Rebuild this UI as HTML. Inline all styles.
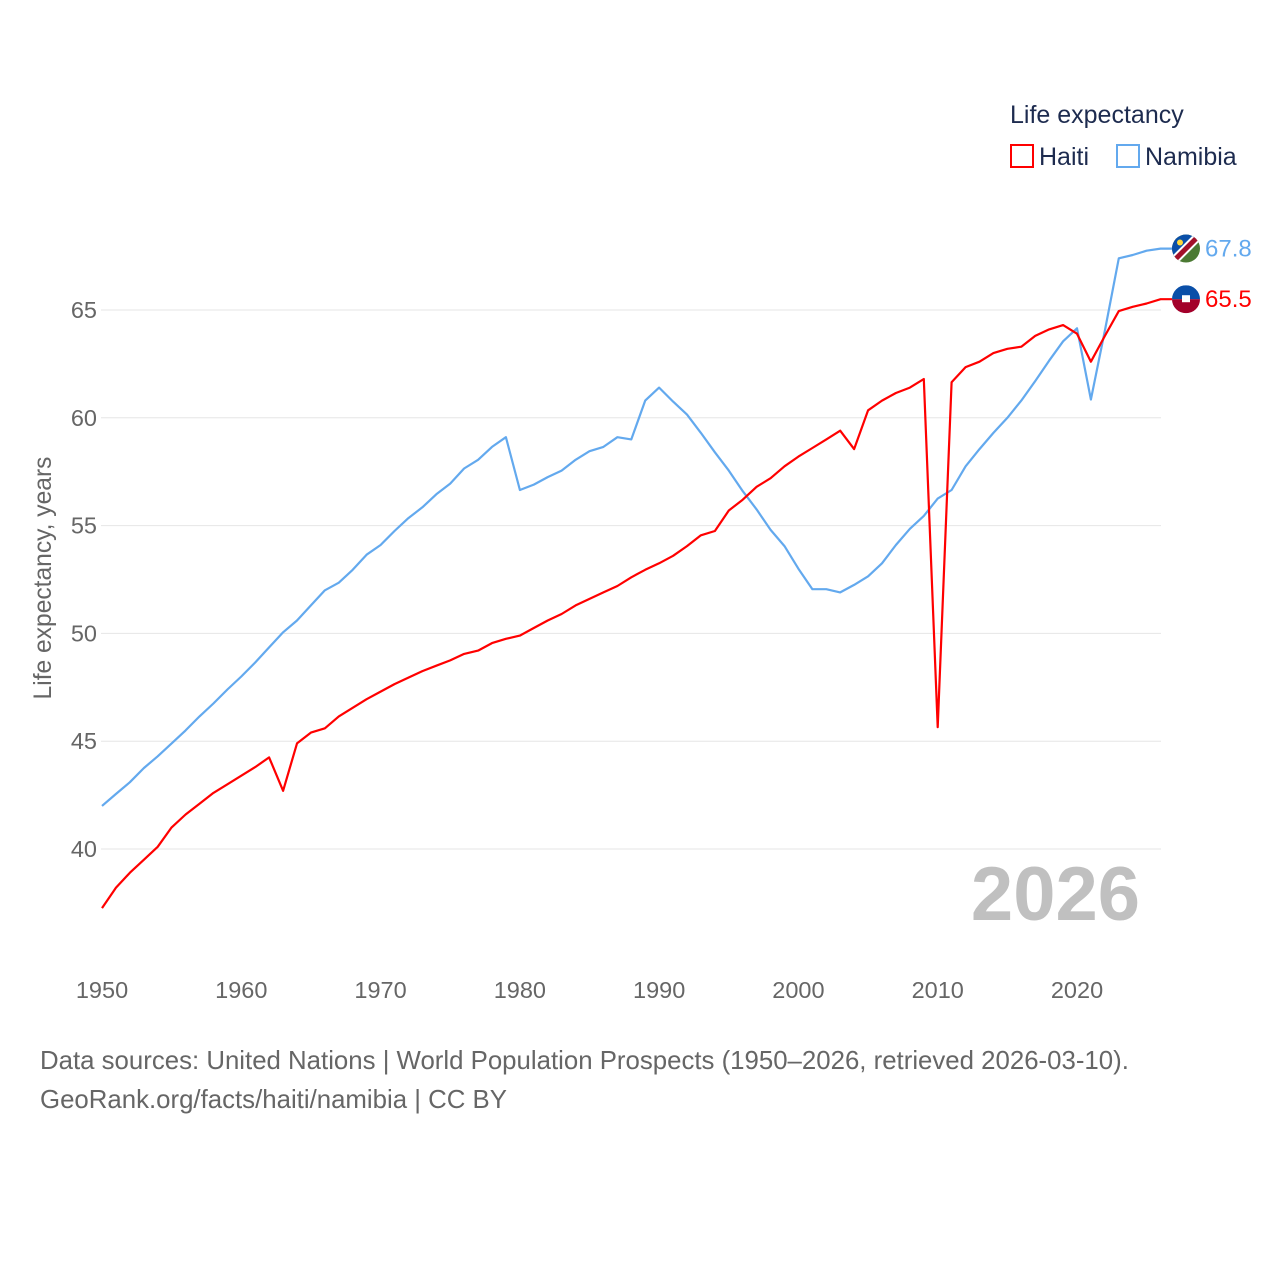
<!DOCTYPE html>
<html><head><meta charset="utf-8"><style>
html,body{margin:0;padding:0;background:#fff;}
body{width:1280px;height:1280px;position:relative;overflow:hidden;font-family:"Liberation Sans",sans-serif;}
.t{position:absolute;white-space:nowrap;}
</style></head><body>
<div class="t" style="left:1010px;top:101px;font-size:25px;color:#1d2b4f;">Life expectancy</div>
<div class="t" style="left:1010px;top:143px;font-size:25px;color:#1d2b4f;"><span style="display:inline-block;width:24px;height:24px;border:2px solid #f00;box-sizing:border-box;vertical-align:-3px;margin-right:5px;"></span>Haiti</div>
<div class="t" style="left:1116px;top:143px;font-size:25px;color:#1d2b4f;"><span style="display:inline-block;width:24px;height:24px;border:2px solid #63a9ee;box-sizing:border-box;vertical-align:-3px;margin-right:5px;"></span>Namibia</div>
<div class="t" style="left:40px;top:1042px;font-size:25.8px;color:#666;line-height:39px;">Data sources: United Nations | World Population Prospects (1950–2026, retrieved 2026-03-10).<br>GeoRank.org/facts/haiti/namibia | CC BY</div>
<svg id="chart" width="1280" height="1280" style="position:absolute;left:0;top:0;" xmlns="http://www.w3.org/2000/svg"></svg>
<script>
const years=[];for(let y=1950;y<=2026;y++)years.push(y);
const haiti=[37.26,38.2,38.9,39.5,40.1,41.0,41.6,42.1,42.6,43.0,43.4,43.8,44.25,42.7,44.9,45.4,45.6,46.15,46.55,46.95,47.3,47.65,47.95,48.25,48.5,48.75,49.05,49.2,49.55,49.75,49.9,50.25,50.6,50.9,51.3,51.6,51.9,52.2,52.6,52.95,53.25,53.6,54.05,54.55,54.75,55.7,56.2,56.8,57.2,57.75,58.2,58.6,59.0,59.4,58.55,60.35,60.8,61.15,61.4,61.8,45.65,61.65,62.35,62.6,63.0,63.2,63.3,63.8,64.1,64.3,63.9,62.6,63.8,64.95,65.15,65.3,65.5];
const namibia=[42.0,42.55,43.1,43.75,44.3,44.9,45.5,46.15,46.75,47.4,48.0,48.65,49.35,50.05,50.6,51.3,52.0,52.35,52.95,53.65,54.1,54.75,55.35,55.85,56.45,56.95,57.65,58.05,58.65,59.1,56.65,56.9,57.25,57.55,58.05,58.45,58.65,59.1,59.0,60.8,61.4,60.75,60.15,59.3,58.4,57.55,56.6,55.75,54.8,54.05,53.0,52.05,52.05,51.9,52.25,52.65,53.25,54.1,54.85,55.45,56.25,56.65,57.75,58.55,59.3,60.0,60.8,61.7,62.65,63.55,64.15,60.85,64.05,67.4,67.55,67.75,67.85];
const yTicks=[40,45,50,55,60,65];
const xTicks=[1950,1960,1970,1980,1990,2000,2010,2020];
const NS="http://www.w3.org/2000/svg";
const svg=document.getElementById('chart');
const X=y=>102+(y-1950)*(1077-102)/70;
const Y=v=>849-(v-40)*(849-310)/25;
function mk(tag,attrs,text){const e=document.createElementNS(NS,tag);for(const k in attrs)e.setAttribute(k,attrs[k]);if(text!==undefined)e.textContent=text;svg.appendChild(e);return e;}
yTicks.forEach(v=>{
  const l=mk('line',{x1:101,x2:1161,y1:Y(v),y2:Y(v),stroke:'#e6e6e6','stroke-width':1});
  
  
  const t=mk('text',{x:97,y:Y(v)+8,'text-anchor':'end','font-size':23.5,fill:'#666','font-family':'Liberation Sans, sans-serif'},String(v));
  
  
});
xTicks.forEach(v=>{
  const t=mk('text',{x:X(v),y:998,'text-anchor':'middle','font-size':23.5,fill:'#666','font-family':'Liberation Sans, sans-serif'},String(v));
  
  
});
const yt=mk('text',{x:0,y:0,transform:'translate(51,578) rotate(-90)','text-anchor':'middle','font-size':24.6,fill:'#666','font-family':'Liberation Sans, sans-serif'},'Life expectancy, years');


const yr=mk('text',{x:1140,y:920,'text-anchor':'end','font-size':76,'font-weight':'bold',fill:'#c0c0c0','font-family':'Liberation Sans, sans-serif'},'2026');


function line(vals,color,name){
  let d=vals.map((v,i)=>(i?'L':'M')+X(years[i]).toFixed(1)+','+Y(v).toFixed(1)).join(' ');
  d+=' L1172,'+Y(vals[vals.length-1]).toFixed(1);
  const p=mk('path',{d:d,fill:'none',stroke:color,'stroke-width':2.2,'stroke-linejoin':'round'});
  
  
}
line(namibia,'#63a9ee','namibia-line');
line(haiti,'#ff0000','haiti-line');
const nv=namibia[namibia.length-1],hv=haiti[haiti.length-1];
const ny=Y(nv),hy=Y(hv),fx=1186;
const defs=mk('defs',{});
defs.innerHTML='<clipPath id="cn"><circle cx="'+fx+'" cy="'+ny+'" r="14"/></clipPath><clipPath id="ch"><circle cx="'+fx+'" cy="'+hy+'" r="14"/></clipPath>';
const gn=mk('g',{'clip-path':'url(#cn)'});


gn.innerHTML='<rect x="'+(fx-14)+'" y="'+(ny-14)+'" width="28" height="28" fill="#4b7a33"/><polygon points="'+(fx-14)+','+(ny-14)+' '+(fx+14)+','+(ny-14)+' '+(fx-14)+','+(ny+14)+'" fill="#0a4fa8"/><line x1="'+(fx-16)+'" y1="'+(ny+16)+'" x2="'+(fx+16)+'" y2="'+(ny-16)+'" stroke="#fff" stroke-width="9"/><line x1="'+(fx-16)+'" y1="'+(ny+16)+'" x2="'+(fx+16)+'" y2="'+(ny-16)+'" stroke="#a3112a" stroke-width="5"/><circle cx="'+(fx-6)+'" cy="'+(ny-6)+'" r="3" fill="#ffd83a"/>';
const gh=mk('g',{'clip-path':'url(#ch)'});


gh.innerHTML='<rect x="'+(fx-14)+'" y="'+(hy-14)+'" width="28" height="14" fill="#0a4fa8"/><rect x="'+(fx-14)+'" y="'+hy+'" width="28" height="14" fill="#a3002a"/><rect x="'+(fx-4)+'" y="'+(hy-4)+'" width="8" height="7" fill="#fff"/>';
const nl=mk('text',{x:1205,y:ny+8,'font-size':24,fill:'#63a9ee','font-family':'Liberation Sans, sans-serif'},nv.toFixed(1));


const hl=mk('text',{x:1205,y:hy+8,'font-size':24,fill:'#ff0000','font-family':'Liberation Sans, sans-serif'},hv.toFixed(1));


</script>
</body></html>
